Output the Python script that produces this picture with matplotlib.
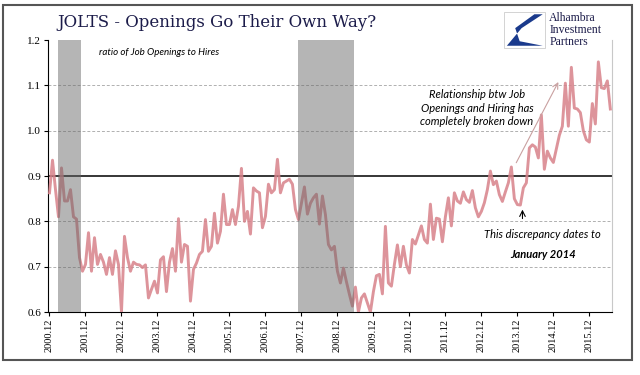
import numpy as np
import matplotlib
matplotlib.use("Agg")
import matplotlib.pyplot as plt
from matplotlib.patches import Rectangle, Polygon

# ratio of job openings to hires, monthly from 2000.12
ratio = [
    0.863, 0.935, 0.870, 0.810, 0.918, 0.845, 0.845, 0.870, 0.810, 0.805, 0.720, 0.690,
    0.705, 0.775, 0.690, 0.764, 0.705, 0.727, 0.710, 0.683, 0.720, 0.683, 0.735, 0.705,
    0.600, 0.767, 0.720, 0.690, 0.710, 0.705, 0.704, 0.698, 0.704, 0.631, 0.650, 0.668,
    0.642, 0.715, 0.722, 0.645, 0.710, 0.740, 0.690, 0.806, 0.710, 0.749, 0.745, 0.624,
    0.694, 0.708, 0.727, 0.734, 0.804, 0.734, 0.745, 0.818, 0.752, 0.778, 0.860, 0.793,
    0.793, 0.826, 0.793, 0.833, 0.917, 0.800, 0.822, 0.772, 0.874, 0.867, 0.863, 0.786,
    0.811, 0.882, 0.863, 0.870, 0.937, 0.863, 0.885, 0.889, 0.893, 0.882, 0.826, 0.804,
    0.840, 0.876, 0.816, 0.840, 0.852, 0.860, 0.794, 0.856, 0.815, 0.749, 0.737, 0.745,
    0.690, 0.664, 0.697, 0.667, 0.639, 0.613, 0.655, 0.600, 0.631, 0.640, 0.620, 0.600,
    0.645, 0.680, 0.683, 0.640, 0.789, 0.664, 0.657, 0.705, 0.748, 0.700, 0.745, 0.704,
    0.686, 0.760, 0.750, 0.770, 0.790, 0.760, 0.752, 0.838, 0.760, 0.807, 0.805, 0.755,
    0.810, 0.852, 0.790, 0.863, 0.845, 0.840, 0.865, 0.848, 0.842, 0.868, 0.830, 0.810,
    0.822, 0.841, 0.870, 0.911, 0.881, 0.889, 0.859, 0.844, 0.865, 0.885, 0.920, 0.850,
    0.837, 0.836, 0.874, 0.885, 0.962, 0.969, 0.964, 0.940, 1.035, 0.915, 0.955, 0.940,
    0.930, 0.960, 0.990, 1.010, 1.105, 1.010, 1.140, 1.050, 1.048, 1.040, 1.000, 0.980,
    0.975, 1.060, 1.015, 1.152, 1.095, 1.093, 1.110, 1.048,
]
tick_labels = ['%d.12' % y for y in range(2000, 2016)]
recessions = [(2.9, 10.6), (82.9, 101.6)]  # month index ranges

x = np.arange(len(ratio))

fig = plt.figure(figsize=(6.4, 3.75), dpi=100)
ax = fig.add_axes([0.075, 0.168, 0.881, 0.725])

for g in [0.7, 0.8, 1.0, 1.1]:
    ax.axhline(g, color='#b0b0b0', lw=0.7, ls=(0, (3, 2)), zorder=2)
ax.axhline(0.9, color='black', lw=1.1, zorder=2)

ax.plot(x, ratio, color='#d8828a', alpha=0.85, lw=2.1, zorder=3, solid_joinstyle='round')

# recession shading drawn on top, semi transparent (line shows through darker)
for a, b in recessions:
    ax.add_patch(Rectangle((a, 0.6), b - a, 0.6, facecolor='#666666', alpha=0.48,
                           lw=0, zorder=4))

ax.set_xlim(-0.5, len(ratio) - 0.5)
ax.set_ylim(0.6, 1.2)
ax.set_yticks([0.6, 0.7, 0.8, 0.9, 1.0, 1.1, 1.2])
ax.set_yticklabels(['0.6', '0.7', '0.8', '0.9', '1.0', '1.1', '1.2'],
                   family='Liberation Serif', fontsize=8)
ax.set_xticks(np.arange(0, 181, 12))
ax.set_xticklabels(tick_labels, rotation=90, family='Liberation Serif', fontsize=7.5)
ax.tick_params(axis='both', direction='out', length=3, width=0.8, pad=2)
ax.spines['top'].set_visible(False)
ax.spines['right'].set_color('#c8c8c8')
ax.spines['right'].set_linewidth(0.8)

ax.text(0.09, 0.97, 'ratio of Job Openings to Hires', transform=ax.transAxes,
        family='Lato', style='italic', fontsize=7, va='top', zorder=5)

ax.annotate('', xy=(170.1, 1.113), xytext=(155.2, 0.924),
            arrowprops=dict(arrowstyle='->', color='#c9a0a0', lw=0.8))
ax.text(142.5, 1.05, 'Relationship btw Job\nOpenings and Hiring has\ncompletely broken down',
        ha='center', va='center', family='Lato', style='italic', fontsize=8,
        linespacing=1.3)
ax.annotate('', xy=(157.7, 0.832), xytext=(157.7, 0.80),
            arrowprops=dict(arrowstyle='->', color='black', lw=0.8))
ax.text(164.5, 0.772, 'This discrepancy dates to', ha='center', va='center',
        family='Lato', style='italic', fontsize=8)
ax.text(164.5, 0.728, 'January 2014', ha='center', va='center',
        family='Lato', style='italic', weight='bold', fontsize=8)

# title and logo
fig.text(0.09, 0.94, 'JOLTS - Openings Go Their Own Way?', family='DejaVu Serif',
         fontsize=12, color='#1c1c4a', va='center')
fig.patches.append(Rectangle((0.787, 0.872), 0.065, 0.095, transform=fig.transFigure,
                             facecolor='white', edgecolor='#cccccc', lw=0.6))
fig.patches.append(Polygon([(0.792, 0.878), (0.815, 0.925), (0.848, 0.962),
                            (0.835, 0.962), (0.805, 0.925), (0.812, 0.890),
                            (0.848, 0.878)], closed=True, transform=fig.transFigure,
                           facecolor='#1a3a8c', edgecolor='none'))
fig.text(0.858, 0.92, 'Alhambra\nInvestment\nPartners', family='Liberation Serif',
         fontsize=8.5, color='#1c1c4a', va='center', linespacing=0.95)

# outer frame
fig.patches.append(Rectangle((0.005, 0.04), 0.982, 0.947, transform=fig.transFigure,
                             facecolor='none', edgecolor='#555555', lw=1.5))

fig.savefig('out.png', dpi=100)
